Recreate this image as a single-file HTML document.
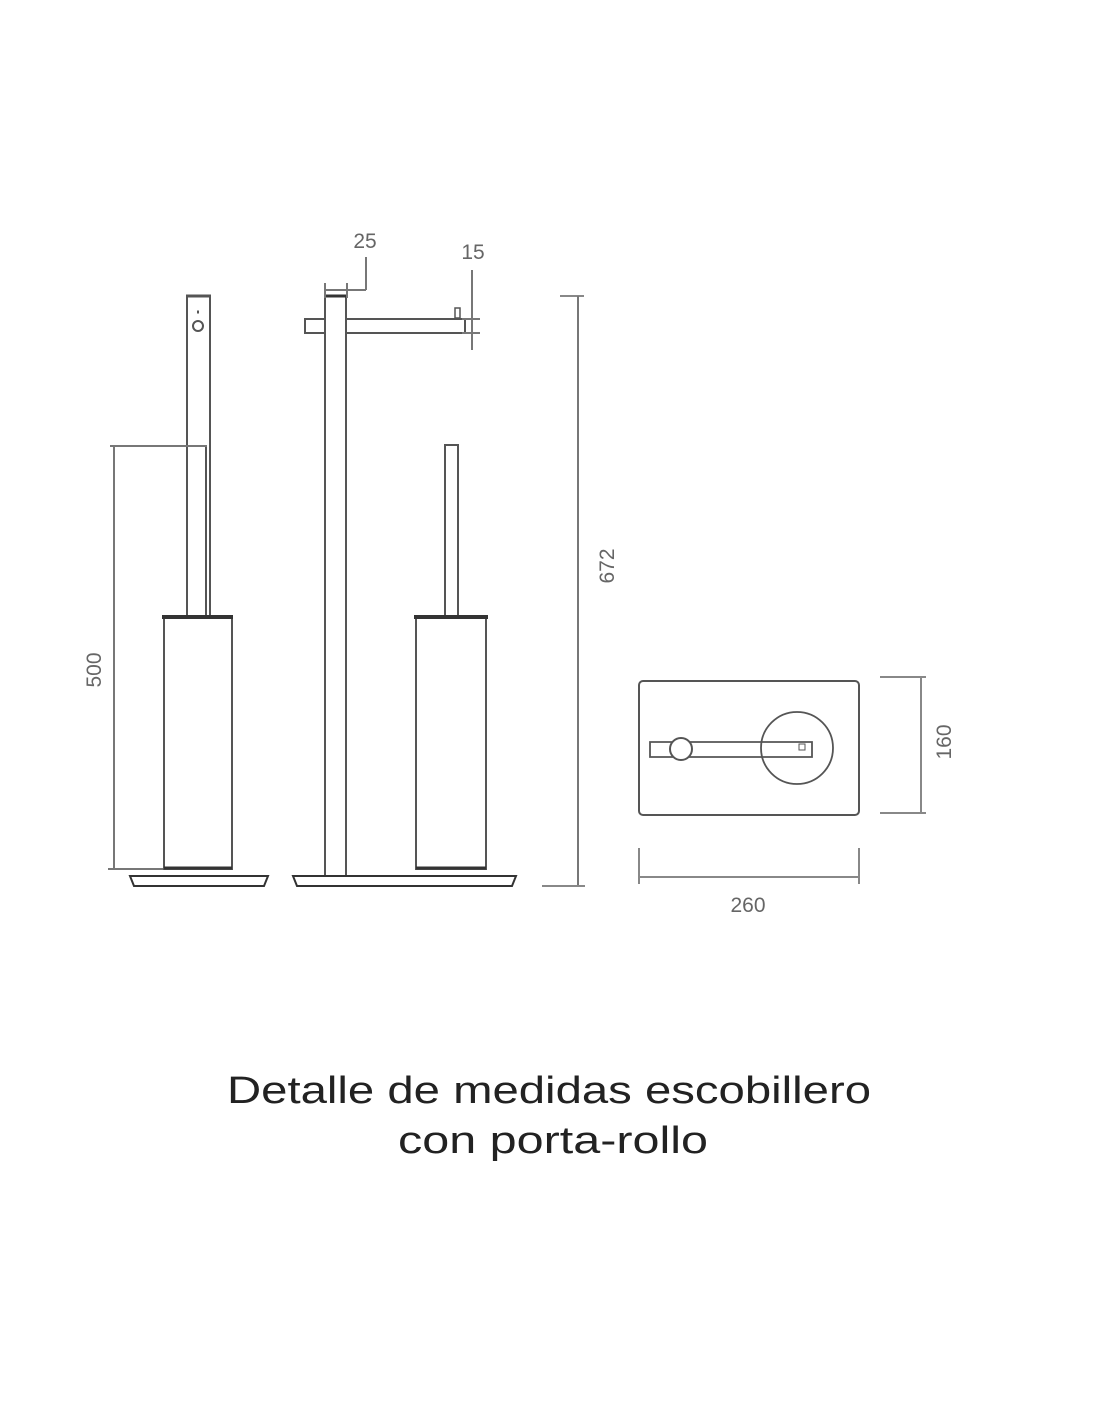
<!DOCTYPE html>
<html><head><meta charset="utf-8"><style>
html,body{margin:0;padding:0;background:#fff;}
svg{display:block}
</style></head><body>
<svg width="1100" height="1422" viewBox="0 0 1100 1422" xmlns="http://www.w3.org/2000/svg">
<g fill="none" stroke="#555" stroke-width="2">
<!-- Left brush -->
<rect x="187" y="296" width="23" height="320"/>
<line x1="186" y1="296" x2="211" y2="296" stroke-width="3"/>
<circle cx="198" cy="326" r="5"/>
<line x1="197" y1="312" x2="199" y2="312" stroke-width="3"/>
<line x1="206" y1="445" x2="206" y2="616"/>
<line x1="110" y1="446" x2="207" y2="446" stroke="#777"/>
<line x1="114" y1="446" x2="114" y2="868" stroke="#777"/>
<line x1="108" y1="869" x2="165" y2="869" stroke="#777"/>
<rect x="164" y="617" width="68" height="252"/>
<line x1="162" y1="617" x2="233" y2="617" stroke-width="4" stroke="#333"/>
<line x1="164" y1="868" x2="232" y2="868" stroke-width="3" stroke="#333"/>
<path d="M130 876 L268 876 L264 886 L134 886 Z" stroke="#333"/>
<!-- Middle -->
<rect x="325" y="296" width="21" height="580"/>
<line x1="324" y1="296" x2="347" y2="296" stroke-width="3" stroke="#333"/>
<rect x="305" y="319" width="20" height="14"/>
<path d="M346 319 L465 319 L465 333 L346 333"/>
<rect x="455" y="308" width="5" height="10" stroke-width="1.5"/>
<line x1="325" y1="283" x2="325" y2="298" stroke="#777"/>
<line x1="347" y1="283" x2="347" y2="298" stroke="#777"/>
<line x1="325" y1="290" x2="366" y2="290" stroke="#777"/>
<line x1="366" y1="290" x2="366" y2="257" stroke="#777"/>
<line x1="472" y1="270" x2="472" y2="350" stroke="#777"/>
<line x1="462" y1="319" x2="480" y2="319" stroke="#777"/>
<line x1="462" y1="333" x2="480" y2="333" stroke="#777"/>
<rect x="445" y="445" width="13" height="171"/>
<rect x="416" y="617" width="70" height="252"/>
<line x1="414" y1="617" x2="488" y2="617" stroke-width="4" stroke="#333"/>
<line x1="416" y1="868" x2="486" y2="868" stroke-width="3" stroke="#333"/>
<path d="M293 876 L516 876 L512 886 L297 886 Z" stroke="#333"/>
<line x1="560" y1="296" x2="584" y2="296" stroke="#888"/>
<line x1="578" y1="296" x2="578" y2="886" stroke="#777"/>
<line x1="542" y1="886" x2="585" y2="886" stroke="#888"/>
<!-- Top view -->
<rect x="639" y="681" width="220" height="134" rx="4"/>
<path d="M650 742 L812 742 L812 757 L650 757 Z" stroke-width="1.8"/>
<circle cx="681" cy="749" r="11" fill="#fff"/>
<circle cx="797" cy="748" r="36" stroke-width="1.8"/>
<rect x="799" y="744" width="6" height="6" stroke-width="1"/>
<line x1="880" y1="677" x2="926" y2="677" stroke="#888"/>
<line x1="880" y1="813" x2="926" y2="813" stroke="#888"/>
<line x1="921" y1="677" x2="921" y2="813" stroke="#888"/>
<line x1="639" y1="848" x2="639" y2="884" stroke="#888"/>
<line x1="859" y1="848" x2="859" y2="884" stroke="#888"/>
<line x1="639" y1="877" x2="859" y2="877" stroke="#888"/>
</g>
<g font-family="Liberation Sans, sans-serif" fill="#666" font-size="21">
<text x="365" y="248" text-anchor="middle">25</text>
<text x="473" y="259" text-anchor="middle">15</text>
<text x="748" y="912" text-anchor="middle">260</text>
<text transform="translate(101 670) rotate(-90)" text-anchor="middle">500</text>
<text transform="translate(614 566) rotate(-90)" text-anchor="middle">672</text>
<text transform="translate(951 742) rotate(-90)" text-anchor="middle">160</text>
</g>
<g font-family="Liberation Sans, sans-serif" fill="#222" font-size="38" text-anchor="middle">
<text x="549" y="1103" textLength="644" lengthAdjust="spacingAndGlyphs">Detalle de medidas escobillero</text>
<text x="553" y="1153" textLength="310" lengthAdjust="spacingAndGlyphs">con porta-rollo</text>
</g>
</svg>
</body></html>
